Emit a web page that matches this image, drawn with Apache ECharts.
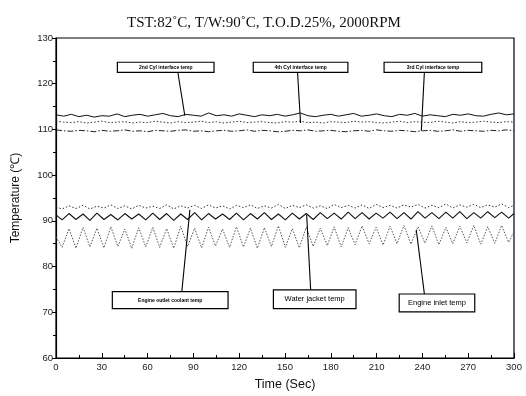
<!DOCTYPE html>
<html><head><meta charset="utf-8">
<script src="https://cdn.jsdelivr.net/npm/echarts@6/dist/echarts.min.js"></script>
<style>html,body{margin:0;padding:0;background:#fff}#c{width:526px;height:396px}</style>
</head><body><div id="c"></div>
<script>
// ---- data ----
const TITLE = "TST:82˚C, T/W:90˚C, T.O.D.25%, 2000RPM";
const X_TICKS = [0,30,60,90,120,150,180,210,240,270,300];
const Y_TICKS = [60,70,80,90,100,110,120,130];

const TIME_SLOW = [0,5,10,15,20,25,30,35,40,45,50,55,60,65,70,75,80,85,90,95,100,105,110,115,120,125,130,135,140,145,150,155,160,165,170,175,180,185,190,195,200,205,210,215,220,225,230,235,240,245,250,255,260,265,270,275,280,285,290,295,300];
const CYL2 = [113.2,112.9,113.3,112.8,113.1,112.7,113.0,112.9,113.4,112.8,113.1,113.3,112.9,113.2,113.5,113.0,112.8,113.3,113.1,112.9,113.6,113.0,113.2,112.9,113.4,113.1,112.8,113.2,113.0,113.3,112.9,113.2,113.6,113.0,112.8,113.1,113.3,112.9,113.2,113.5,112.9,113.1,113.4,113.0,112.8,113.3,113.1,113.5,112.9,113.2,113.0,112.8,113.3,113.1,113.4,113.0,112.9,113.3,113.6,113.2,113.4];
const CYL4 = [111.8,111.6,111.5,111.7,111.4,111.6,111.8,111.5,111.6,111.7,111.4,111.6,111.5,111.8,111.6,111.4,111.7,111.5,111.6,111.8,111.5,111.7,111.4,111.6,111.8,111.5,111.6,111.7,111.5,111.4,111.7,111.6,111.8,111.5,111.6,111.4,111.7,111.6,111.5,111.8,111.6,111.7,111.5,111.4,111.6,111.8,111.5,111.7,111.6,111.5,111.8,111.6,111.4,111.7,111.5,111.6,111.8,111.6,111.5,111.7,111.6];
const CYL3 = [109.9,109.7,109.6,109.8,109.7,109.5,109.8,109.6,109.7,109.9,109.6,109.7,109.5,109.8,109.7,109.6,109.8,109.9,109.6,109.7,109.5,109.7,109.8,109.6,109.7,109.9,109.6,109.8,109.7,109.5,109.6,109.8,109.7,109.9,109.6,109.7,109.8,109.6,109.5,109.7,109.8,109.6,109.9,109.7,109.6,109.8,109.7,109.5,109.7,109.8,109.6,109.7,109.9,109.6,109.8,109.7,109.6,109.8,109.7,109.9,109.7];

const TIME_FAST = [0,4.0,8.5,13.1,17.7,22.2,26.8,31.4,35.9,40.5,45.1,49.6,54.2,58.8,63.4,67.9,72.5,77.1,81.7,86.2,90.8,95.4,99.9,104.5,109.1,113.7,118.2,122.8,127.4,131.9,136.5,141.1,145.7,150.2,154.8,159.4,163.9,168.5,173.1,177.7,182.2,186.8,191.4,195.9,200.5,205.1,209.7,214.2,218.8,223.4,227.9,232.5,237.1,241.7,246.2,250.8,255.4,259.9,264.5,269.1,273.7,278.2,282.8,287.4,291.9,296.5,300];
const OUTLET = [93.0,92.6,93.3,92.7,93.4,92.6,93.2,92.8,93.5,92.7,93.3,92.6,93.4,92.8,93.2,92.7,93.5,92.6,93.3,92.8,93.4,92.7,93.5,92.8,93.3,92.6,93.4,92.9,93.5,92.7,93.3,92.8,93.6,92.7,93.4,92.9,93.5,92.8,93.3,92.7,93.6,92.9,93.4,92.8,93.5,92.7,93.6,92.9,93.4,92.8,93.5,93.0,93.6,92.8,93.4,92.9,93.7,92.8,93.5,93.0,93.6,92.9,93.5,93.0,93.7,92.9,93.4];
const JACKET = [91.3,90.2,91.6,90.3,91.5,90.1,91.7,90.3,91.4,90.2,91.6,90.4,91.5,90.2,91.7,90.3,91.6,90.1,91.5,90.3,91.8,90.2,91.6,90.4,91.5,90.3,91.7,90.2,91.6,90.4,91.8,90.3,91.5,90.2,91.7,90.4,91.6,90.3,91.8,90.5,91.7,90.4,91.9,90.5,91.8,90.4,91.7,90.6,91.9,90.5,91.8,90.4,92.0,90.6,91.8,90.5,91.9,90.6,92.0,90.5,91.8,90.6,92.0,90.7,91.9,90.6,91.6];
const INLET = [86.5,84.2,88.3,84.0,88.6,84.3,88.4,84.1,88.7,84.4,88.2,84.0,88.5,84.3,88.6,84.2,88.3,84.0,88.8,84.4,88.4,84.1,88.6,84.5,88.2,84.2,88.7,84.3,88.4,84.0,88.5,84.4,88.9,84.2,88.3,84.1,88.6,84.4,88.4,84.6,88.7,84.3,88.5,84.8,88.9,85.0,88.6,84.7,88.8,85.0,89.0,84.9,88.7,85.1,88.9,84.8,88.6,85.0,88.8,85.2,89.0,84.9,88.7,85.1,89.0,85.3,87.6];

// annotation labels (box text) and their anchors in data units [t0,t1,T0,T1] + leader [tBox,TBox,tLine,TLine]
const LABELS = ["2nd Cyl interface temp","4th Cyl interface temp","3rd Cyl interface temp","Engine outlet coolant temp","Water jacket temp","Engine inlet temp"];
const LABEL_SIZES = [5,5,5,5,7.5,7.5];
const BOXES = [[40.2,103.5,124.7,122.5],[129.2,191.2,124.7,122.5],[214.9,278.9,124.7,122.5],[36.9,112.7,74.5,70.8],[142.4,196.5,74.9,70.8],[224.8,274.3,74.0,70.1]];
const LEADERS = [[79.8,122.5,84.4,113.0],[158.2,122.5,160.2,111.4],[241.3,122.5,239.3,109.7],[82.4,74.5,87.7,92.4],[166.8,74.9,164.2,91.3],[241.3,74.0,236.0,88.0]];

const zip = (xs, ys) => ys.map((v,i)=>[xs[i], v]);

const chart = echarts.init(document.getElementById('c'), null, {renderer:'canvas'});
const lineBase = {type:'line', showSymbol:false, symbol:'none', smooth:false, animation:false};
const option = {
  animation:false,
  backgroundColor:'#fff',
  title:{text:TITLE, left:259, top:11, textAlign:'center',
    textStyle:{fontFamily:'Liberation Serif', fontSize:15, fontWeight:'normal', color:'#111'}},
  grid:{left:56, right:12, top:38, bottom:34, show:true, borderColor:'#000', borderWidth:1.2},
  xAxis:{type:'value', min:0, max:300, interval:30,
    name:'Time (Sec)', nameLocation:'middle', nameGap:20,
    nameTextStyle:{fontFamily:'Liberation Sans', fontSize:12.5, color:'#111'},
    axisLine:{lineStyle:{color:'#000', width:1.2}},
    axisTick:{inside:true, length:5, lineStyle:{color:'#000'}},
    minorTick:{show:true, splitNumber:2, length:3, lineStyle:{color:'#000'}},
    splitLine:{show:false},
    axisLabel:{fontFamily:'Liberation Sans', fontSize:9.5, color:'#222', margin:4,
      formatter:v=>X_TICKS.includes(v)?String(v):''}},
  yAxis:{type:'value', min:60, max:130, interval:10,
    name:'Temperature (\u2103)', nameLocation:'middle', nameGap:34,
    nameTextStyle:{fontFamily:'Liberation Sans', fontSize:12, color:'#111'},
    axisLine:{lineStyle:{color:'#000', width:1.2}},
    axisTick:{length:4, lineStyle:{color:'#000'}},
    minorTick:{show:true, splitNumber:2, length:3, lineStyle:{color:'#000'}},
    splitLine:{show:false},
    axisLabel:{fontFamily:'Liberation Sans', fontSize:9.5, color:'#222', margin:3,
      formatter:v=>Y_TICKS.includes(v)?String(v):''}},
  series:[
    Object.assign({name:LABELS[0], data:zip(TIME_SLOW,CYL2), lineStyle:{color:'#111', width:1}}, lineBase),
    Object.assign({name:LABELS[1], data:zip(TIME_SLOW,CYL4), lineStyle:{color:'#333', width:1, type:[1.5,2]}}, lineBase),
    Object.assign({name:LABELS[2], data:zip(TIME_SLOW,CYL3), lineStyle:{color:'#222', width:1, type:[6,2,1.5,2]}}, lineBase),
    Object.assign({name:LABELS[3], data:zip(TIME_FAST,OUTLET), lineStyle:{color:'#333', width:1, type:[1.5,2]}}, lineBase),
    Object.assign({name:LABELS[4], data:zip(TIME_FAST,JACKET), lineStyle:{color:'#111', width:1.1}}, lineBase),
    Object.assign({name:LABELS[5], data:zip(TIME_FAST,INLET), lineStyle:{color:'#555', width:1, type:[1.5,1.5]}}, lineBase)
  ]
};
chart.setOption(option);

const px = (t,T) => chart.convertToPixel({gridIndex:0}, [t,T]);
const elements = [];
BOXES.forEach((b,i)=>{
  const p0 = px(b[0], b[2]), p1 = px(b[1], b[3]);
  elements.push({type:'rect', shape:{x:p0[0], y:p0[1], width:p1[0]-p0[0], height:p1[1]-p0[1]},
    style:{fill:'#fff', stroke:'#000', lineWidth:1.2}, z:10});
  elements.push({type:'text', x:(p0[0]+p1[0])/2, y:(p0[1]+p1[1])/2,
    style:{text:LABELS[i], fontFamily:'Liberation Sans', fontSize:LABEL_SIZES[i], fontWeight:LABEL_SIZES[i]<6?'bold':'normal',
      fill:'#000', align:'center', verticalAlign:'middle'}, z:11});
});
LEADERS.forEach(l=>{
  const a = px(l[0], l[1]), b = px(l[2], l[3]);
  elements.push({type:'line', shape:{x1:a[0], y1:a[1], x2:b[0], y2:b[1]}, style:{stroke:'#000', lineWidth:1.1}, z:9});
});
chart.setOption({graphic:{elements}});
</script></body></html>
